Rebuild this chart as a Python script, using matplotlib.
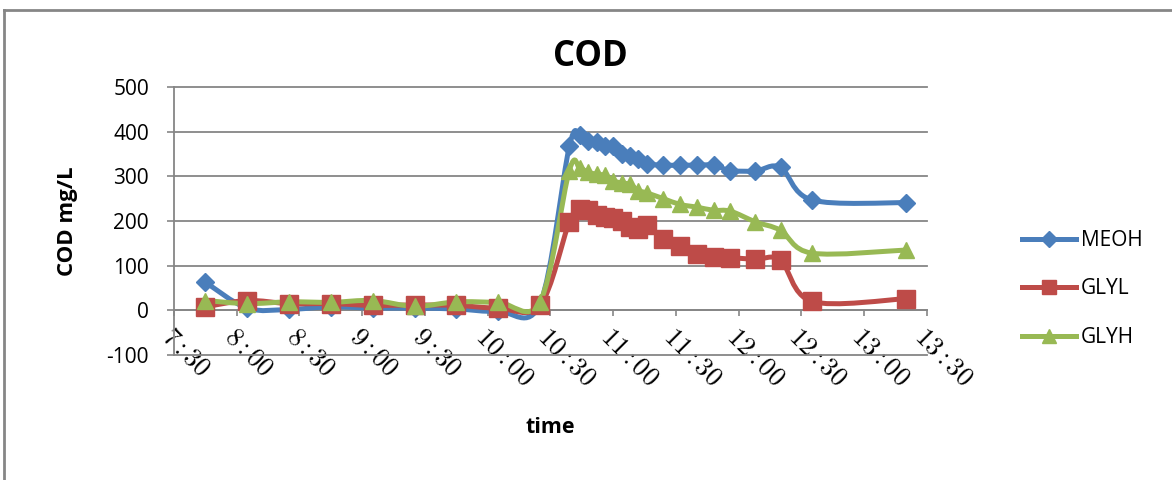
import numpy as np
import matplotlib
matplotlib.use("Agg")
import matplotlib.pyplot as plt
from matplotlib.path import Path
from matplotlib.patches import PathPatch
from matplotlib.lines import Line2D

# dados (hora da amostra, COD em mg/L)
tempos = ["7:45", "8:05", "8:25", "8:45", "9:05", "9:25", "9:45", "10:05", "10:25",
          "10:39", "10:44", "10:48", "10:52", "10:56", "11:00", "11:04", "11:08", "11:12",
          "11:16", "11:24", "11:32", "11:40", "11:48", "11:56", "12:08", "12:20", "12:35", "13:20"]
meoh = [63, 5, 2, 8, 5, 5, 3, -2, 15,
        367, 392, 379, 376, 368, 368, 351, 346, 338, 328, 325, 325, 325, 325, 313, 312, 320, 247, 241]
glyl = [8, 22, 15, 15, 11, 12, 11, 5, 11,
        198, 226, 224, 214, 210, 207, 200, 186, 182, 190, 160, 145, 127, 119, 118, 114, 112, 20, 26]
glyh = [22, 15, 19, 18, 22, 9, 19, 18, 19,
        313, 318, 309, 305, 302, 290, 285, 282, 268, 263, 250, 237, 231, 224, 222, 198, 179, 128, 135]
series_names = ["MEOH", "GLYL", "GLYH"]
tick_labels = ["7:30", "8:00", "8:30", "9:00", "9:30", "10:00", "10:30",
               "11:00", "11:30", "12:00", "12:30", "13:00", "13:30"]
y_ticks = [-100, 0, 100, 200, 300, 400, 500]

cores = ["#4A7EBB", "#BE4B48", "#98B954"]
marcadores = [("D", 9), ("s", 12.5), ("^", 12)]


def minutos(h):
    hh, mm = h.split(":")
    return int(hh) * 60 + int(mm)


def curva_suave(x, y):
    # curva de Bezier parecida com a "linha suavizada" do Excel
    pts = np.column_stack([x, y]).astype(float)
    verts = [pts[0]]
    codes = [Path.MOVETO]
    n = len(pts)
    for i in range(n - 1):
        p0 = pts[i - 1] if i > 0 else pts[i]
        p1 = pts[i]
        p2 = pts[i + 1]
        p3 = pts[i + 2] if i + 2 < n else pts[i + 1]
        c1 = p1 + (p2 - p0) / 6
        c2 = p2 - (p3 - p1) / 6
        verts += [c1, c2, p2]
        codes += [Path.CURVE4] * 3
    return Path(verts, codes)


plt.rcParams['font.family'] = ['Open Sans', 'DejaVu Sans']
plt.rcParams['mathtext.fontset'] = 'cm'
plt.rcParams['axes.unicode_minus'] = False

fig = plt.figure(figsize=(11.72, 4.8), dpi=100)
ax = fig.add_axes([174 / 1172, 1 - 355 / 480, 753 / 1172, 268 / 480])

# eixo x cruzando no zero (como no Excel) - antes de mexer nos ticks
ax.spines["bottom"].set_position(("data", 0))
ax.spines["top"].set_visible(False)
ax.spines["right"].set_visible(False)
cinza = "#868686"
for s in ["bottom", "left"]:
    ax.spines[s].set_color(cinza)
    ax.spines[s].set_linewidth(1.3)

x = [minutos(t) for t in tempos]

for nome, serie, cor, (mk, ms) in zip(series_names, [meoh, glyl, glyh], cores, marcadores):
    ax.add_patch(PathPatch(curva_suave(x, serie), facecolor="none", edgecolor=cor,
                           lw=3.6, capstyle="round", joinstyle="round", zorder=3))
    ax.plot(x, serie, linestyle="none", marker=mk, markersize=ms, color=cor, zorder=4)

xt = [minutos(t) for t in tick_labels]
ax.set_xlim(xt[0], xt[-1])
ax.set_ylim(-100, 500)
ax.tick_params(axis="y", labelsize=15, length=5, width=1.2, color=cinza, pad=13)
ax.tick_params(axis="x", labelsize=19, length=4.5, width=1.2, color=cinza, pad=5, labelrotation=-45)
ax.set_yticks(y_ticks)
ax.set_xticks(xt)
ax.set_xticklabels(["$" + t + "$" for t in tick_labels], fontsize=19)
plt.setp(ax.get_xticklabels(), rotation=-45, ha="left", va="top", rotation_mode="anchor")

ax.grid(axis="y", color=cinza, lw=1.3)
for gl in ax.get_ygridlines():
    gl.set_clip_on(False)
ax.set_axisbelow(True)

ax.set_ylabel("COD mg/L", fontsize=16, fontweight="bold")
ax.yaxis.set_label_coords(-0.1275, 0.5)
ax.set_xlabel("time", fontsize=15.5, fontweight="bold", va="center")
ax.xaxis.set_label_coords(0.5, -0.27)

fig.text(590 / 1172, 1 - 57 / 480, "COD", fontsize=25, fontweight="bold", ha="center", va="center")

handles = [Line2D([], [], color=c, lw=3.6, marker=m, markersize=ms * 0.85)
           for c, (m, ms) in zip(cores, marcadores)]
fig.legend(handles, series_names, loc="center left", bbox_to_anchor=(1003 / 1172, 1 - 289 / 480),
           frameon=False, fontsize=15, handlelength=2.6, handletextpad=0.25, labelspacing=1.32)

# moldura do gráfico
fig.add_artist(Line2D([4 / 1172, 4 / 1172], [0, 1 - 9.5 / 480], transform=fig.transFigure, color=cinza, lw=2))
fig.add_artist(Line2D([4 / 1172, 1], [1 - 9.5 / 480, 1 - 9.5 / 480], transform=fig.transFigure, color=cinza, lw=2))

fig.savefig("out.png", dpi=100)
